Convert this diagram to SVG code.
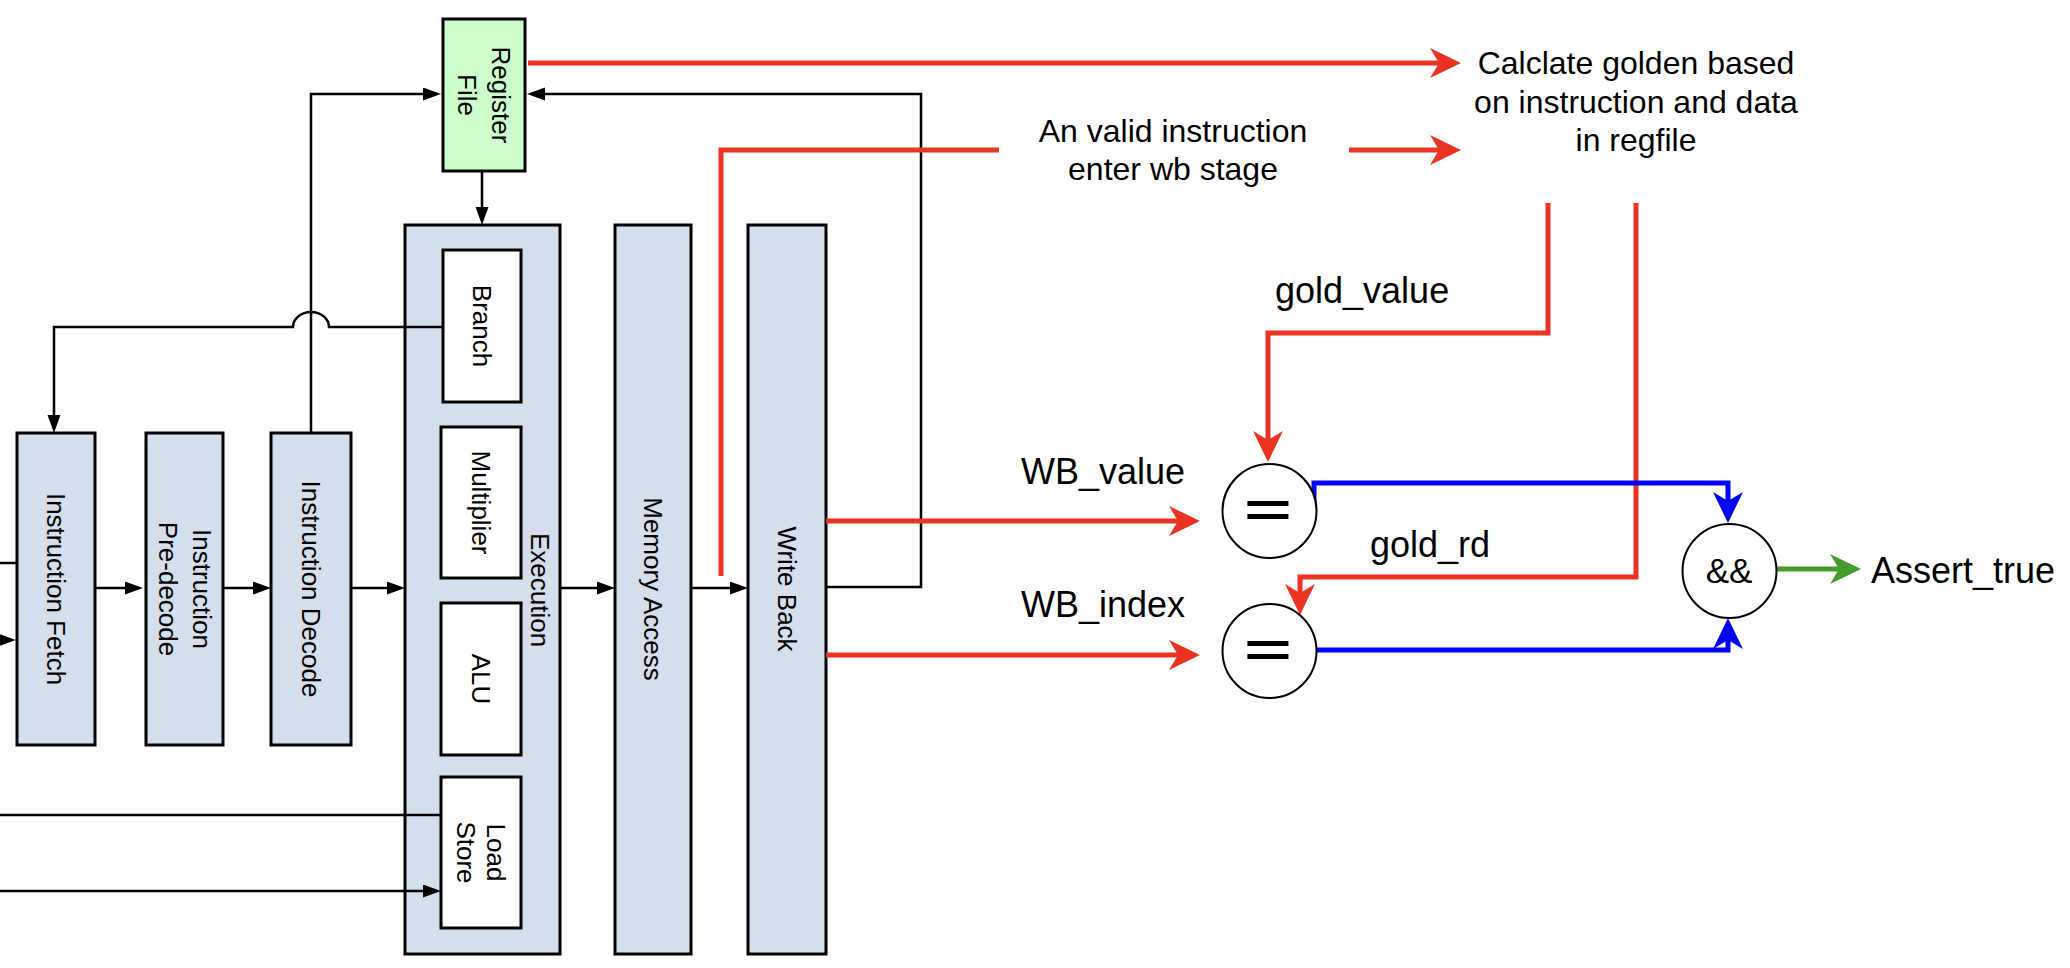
<svg xmlns="http://www.w3.org/2000/svg" width="2070" height="968" viewBox="0 0 2070 968">
<style>
  text { font-family: "Liberation Sans", Arial, Helvetica, sans-serif; fill: #000; }
  .stage { fill: #D5DEEC; stroke: #000; stroke-width: 3; }
  .unit { fill: #FFFFFF; stroke: #000; stroke-width: 3; }
  .rf { fill: #CCFFCC; stroke: #000; stroke-width: 3; }
  .op { fill: #FFFFFF; stroke: #000; stroke-width: 2; }
  .vt { font-size: 26px; text-anchor: middle; }
  .lbl { font-size: 36px; }
  .note { font-size: 32px; text-anchor: middle; }
  .eq { font-size: 46px; font-weight: bold; text-anchor: middle; }
  .blk { fill: none; stroke: #000; stroke-width: 2.5; }
  .red { fill: none; stroke: #EA3323; stroke-width: 5; }
  .blue { fill: none; stroke: #0000FF; stroke-width: 5; }
  .green { fill: none; stroke: #459A2C; stroke-width: 5; }
</style>
<defs>
  <marker id="ab" markerUnits="userSpaceOnUse" markerWidth="20" markerHeight="14" refX="2" refY="6.5" orient="auto">
    <path d="M0,0 L18,6.5 L0,13 Z" fill="#000"/>
  </marker>
  <marker id="ar" markerUnits="userSpaceOnUse" markerWidth="32" markerHeight="31" refX="9" refY="15" orient="auto">
    <path d="M0,0 L31,15 L0,30 L9,15 Z" fill="#EA3323"/>
  </marker>
  <marker id="au" markerUnits="userSpaceOnUse" markerWidth="32" markerHeight="31" refX="9" refY="15" orient="auto">
    <path d="M0,0 L31,15 L0,30 L9,15 Z" fill="#0000FF"/>
  </marker>
  <marker id="ag" markerUnits="userSpaceOnUse" markerWidth="32" markerHeight="31" refX="9" refY="15" orient="auto">
    <path d="M0,0 L31,15 L0,30 L9,15 Z" fill="#459A2C"/>
  </marker>
</defs>
<rect width="2070" height="968" fill="#FFFFFF"/>

<g id="register-file">
  <rect class="rf" x="443" y="19" width="82" height="152"/>
  <g transform="translate(484,95) rotate(90)">
    <text class="vt" x="0" y="-8">Register</text>
    <text class="vt" x="0" y="26">File</text>
  </g>
</g>
<g id="instruction-fetch">
  <rect class="stage" x="17" y="433" width="78" height="312"/>
  <text class="vt" transform="translate(56,589) rotate(90)" y="9">Instruction Fetch</text>
</g>
<g id="instruction-predecode">
  <rect class="stage" x="146" y="433" width="77" height="312"/>
  <g transform="translate(184.5,589) rotate(90)">
    <text class="vt" x="0" y="-8">Instruction</text>
    <text class="vt" x="0" y="26">Pre-decode</text>
  </g>
</g>
<g id="instruction-decode">
  <rect class="stage" x="271" y="433" width="80" height="312"/>
  <text class="vt" transform="translate(311,589) rotate(90)" y="9">Instruction Decode</text>
</g>
<g id="execution">
  <rect class="stage" x="405" y="225" width="155" height="729"/>
  <text class="vt" transform="translate(540,590) rotate(90)" y="9">Execution</text>
</g>
<g id="branch">
  <rect class="unit" x="443" y="250" width="78" height="152"/>
  <text class="vt" transform="translate(482,326) rotate(90)" y="9">Branch</text>
</g>
<g id="multiplier">
  <rect class="unit" x="441" y="427" width="80" height="151"/>
  <text class="vt" transform="translate(481,502.5) rotate(90)" y="9">Multiplier</text>
</g>
<g id="alu">
  <rect class="unit" x="441" y="603" width="80" height="152"/>
  <text class="vt" transform="translate(481,679) rotate(90)" y="9">ALU</text>
</g>
<g id="load-store">
  <rect class="unit" x="441" y="777" width="80" height="151"/>
  <g transform="translate(481,852.5) rotate(90)">
    <text class="vt" x="0" y="-6">Load</text>
    <text class="vt" x="0" y="24">Store</text>
  </g>
</g>
<g id="memory-access">
  <rect class="stage" x="615" y="225" width="76" height="729"/>
  <text class="vt" transform="translate(653,589) rotate(90)" y="9">Memory Access</text>
</g>
<g id="write-back">
  <rect class="stage" x="748" y="225" width="78" height="729"/>
  <text class="vt" transform="translate(787,589) rotate(90)" y="9">Write Back</text>
</g>

<g id="connectors">
  <path class="blk" d="M95,588 H127" marker-end="url(#ab)"/>
  <path class="blk" d="M223,588 H255" marker-end="url(#ab)"/>
  <path class="blk" d="M351,588 H389" marker-end="url(#ab)"/>
  <path class="blk" d="M560,588 H599" marker-end="url(#ab)"/>
  <path class="blk" d="M691,588 H732" marker-end="url(#ab)"/>
  <path class="blk" d="M482,171 V209" marker-end="url(#ab)"/>
  <path class="blk" d="M311,433 V94 H425" marker-end="url(#ab)"/>
  <path class="blk" d="M826,587 H921 V94 H543" marker-end="url(#ab)"/>
  <path class="blk" d="M443,327 H329 A18,15 0 0 0 293,327 H54 V417" marker-end="url(#ab)"/>
  <path class="blk" d="M0,563 H17"/>
  <path class="blk" d="M-20,640 H0" marker-end="url(#ab)"/>
  <path class="blk" d="M0,815 H441"/>
  <path class="blk" d="M0,891 H425" marker-end="url(#ab)"/>

  <path class="red" d="M528,63 H1439" marker-end="url(#ar)"/>
  <path class="red" d="M1349,150 H1439" marker-end="url(#ar)"/>
  <path class="red" d="M999,150 H721 V576"/>
  <path class="red" d="M826,521 H1178" marker-end="url(#ar)"/>
  <path class="red" d="M826,655 H1178" marker-end="url(#ar)"/>
  <path class="red" d="M1548,203 V333 H1268 V440" marker-end="url(#ar)"/>
  <path class="red" d="M1636,203 V577 H1300 V593" marker-end="url(#ar)"/>

  <path class="blue" d="M1314,509 V483 H1728 V501" marker-end="url(#au)"/>
  <path class="blue" d="M1316,650 H1728 V640" marker-end="url(#au)"/>

  <path class="green" d="M1777,569 H1839" marker-end="url(#ag)"/>
</g>

<g id="eq-value">
  <circle class="op" cx="1269.5" cy="511" r="47"/>
  <text class="eq" transform="translate(1268,526) scale(1.78,1)">=</text>
</g>
<g id="eq-index">
  <circle class="op" cx="1269.5" cy="651" r="47"/>
  <text class="eq" transform="translate(1268,666) scale(1.78,1)">=</text>
</g>
<g id="and-gate">
  <circle class="op" cx="1729.5" cy="571" r="47"/>
  <text x="1729" y="583" style="font-size:35px;text-anchor:middle">&amp;&amp;</text>
</g>

<g id="labels">
  <text class="note" x="1173" y="142">An valid instruction</text>
  <text class="note" x="1173" y="180">enter wb stage</text>
  <text class="note" x="1636" y="74">Calclate golden based</text>
  <text class="note" x="1636" y="112.5">on instruction and data</text>
  <text class="note" x="1636" y="151">in regfile</text>
  <text class="lbl" x="1275" y="303">gold_value</text>
  <text class="lbl" x="1370" y="557">gold_rd</text>
  <text class="lbl" x="1021" y="484">WB_value</text>
  <text class="lbl" x="1021" y="617">WB_index</text>
  <text class="lbl" x="1871" y="583">Assert_true</text>
</g>
</svg>
